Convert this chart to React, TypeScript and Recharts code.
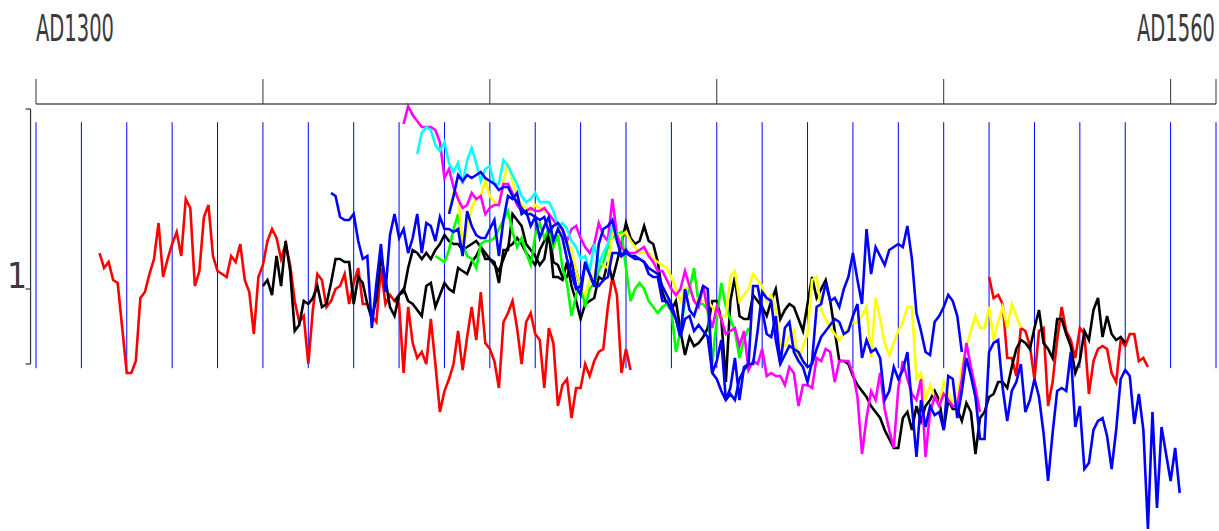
import { LineChart, Line, XAxis, YAxis, ReferenceLine } from "recharts";

// Index series, 100 = "1" on the left axis. Each series is yearly from its start year.
const red1Start = 1314;
const red1 = [
  112, 107, 109, 103, 102, 87, 72, 72, 76, 97,
  99, 105, 110, 122, 104, 110, 115, 119, 111, 130,
  127, 101, 106, 124, 128, 111, 106, 105, 104, 111,
  109, 115, 103, 99, 85, 104, 108, 116, 120, 117,
  110, 115, 108, 96, 89, 91, 75, 93, 105, 103,
  94, 96, 100, 101, 105, 95, 102, 107, 95, 95,
  91, 89, 107, 95, 98, 96, 95, 72, 94, 82,
  77, 79, 75, 90, 75, 59, 66, 70, 75, 86,
  73, 84, 94, 83, 99, 82, 80, 76, 67, 89,
  92, 96, 87, 75, 89, 92, 85, 83, 67, 87,
  82, 61, 68, 70, 57, 67, 67, 75, 71, 76,
  79, 80, 94, 104, 98, 72, 80, 73,
];

const red2Start = 1510;
const red2 = [
  104, 97, 98, 95, 77, 77, 71, 87, 86, 81,
  70, 86, 87, 61, 69, 83, 94, 86, 83, 77,
  87, 85, 65, 76, 80, 81, 80, 72, 69, 83,
  81, 85, 85, 76, 77, 74,
];

const blackAStart = 1350;
const blackA = [
  101, 103, 98, 111, 101, 116, 106, 86, 88, 96,
  95, 97, 101, 94, 95, 102, 110, 110, 109, 109,
  95, 104, 102, 95, 90, 97, 111, 103, 94, 91,
  98, 99, 107, 113, 112, 110, 112, 110, 113, 115,
  118, 116, 115, 115, 113, 114, 115, 116, 114, 110,
  110, 109, 102, 113, 113, 125, 123, 121, 115, 113,
  111, 108, 110, 119, 104, 104, 103, 109, 101, 96,
  90, 95, 96, 97, 104, 103, 109, 103, 109, 115,
  122, 117, 115, 116, 121, 116, 115, 109, 99, 95,
  93, 96, 86, 78, 84, 81, 82, 84, 87, 96,
  96, 90, 69, 96, 104, 91, 90, 90, 98, 96,
  94, 91, 96, 100, 90, 93, 95, 94, 90, 86,
  95, 104, 97, 100, 103, 96, 86, 76, 76, 75,
  71, 68, 66, 64, 61, 59, 57, 53, 50, 47,
  47, 57, 59, 53, 61, 56, 61, 63, 66, 63,
  53, 63, 60, 60, 56, 62, 59, 45, 57, 59,
  64, 65, 69, 69, 67, 74, 80, 83, 82, 80,
  87, 93, 82, 80, 77, 90, 90, 85, 81, 72,
  76, 86, 83, 93, 97, 84, 91, 85, 83, 84,
  82,
];

const blackBStart = 1379;
const blackB = [
  96, 98, 100, 96, 95, 93, 91, 101, 102, 94,
  98, 102, 100, 99, 107, 106, 105, 109, 111, 114,
  112, 110, 108, 106, 110, 114, 115, 117, 115, 112,
  110, 108, 113, 116, 120, 109, 108, 104, 104, 109,
  106, 101,
];

const blueAStart = 1365;
const blueA = [
  132, 131, 124, 123, 123, 125, 116, 110, 111, 87,
  102, 115, 99, 118, 125, 117, 120, 112, 117, 125,
  112, 122, 121, 116, 124, 120, 120, 119, 120, 111,
  126, 121, 118, 117, 117, 120, 123, 111, 123, 131,
  130, 132, 125, 126, 121, 124, 117, 121, 124, 116,
  120, 117, 110, 105, 100, 101, 108, 105, 101, 115,
  120, 121, 123, 116, 111, 113, 111, 111, 110, 109,
  105, 104, 104, 96, 96, 93, 90, 84, 100, 93,
  91, 96, 101, 100, 72, 76, 83, 63, 67, 77,
  63, 74, 75, 101, 101, 93, 85, 84, 91, 75,
  87, 89, 79, 76, 74, 69, 76, 94, 95, 102,
  96, 97, 94, 100, 104, 112, 103, 95, 120, 105,
  114, 111, 108, 113, 114, 115, 114, 121, 110, 92,
  86, 79, 78, 89, 91, 94, 98, 96, 91, 79,
];

const blueBStart = 1391;
const blueB = [
  125, 131, 138, 136, 138, 137, 138, 139, 137, 136,
  135, 133, 134, 134, 131, 129, 127, 125, 125, 124,
  123, 124, 119, 121, 122, 120, 115, 109, 101, 98,
  109, 105, 101, 101, 103, 104, 112, 112, 111, 112,
  111, 110, 110, 109, 107, 106, 105, 101, 98, 95,
  90, 84, 90, 91, 86, 88, 86, 84, 72, 70,
  66, 63, 65, 63, 70, 73, 75, 75, 86, 99,
  97, 96, 83, 75, 78, 81, 80, 79, 76, 74,
  75, 80, 84, 86, 88, 90, 89, 85, 86, 91,
  95, 77, 83, 79, 80, 77, 63, 66, 74, 70,
  73, 79, 61, 44, 63, 54, 61, 58, 59, 53,
  71, 70, 57, 66, 77, 71, 64, 50, 50, 79,
  82, 83, 67, 56, 66, 69, 75, 59, 63, 70,
  64, 52, 36, 52, 66, 67, 66, 79, 54, 61,
  40, 42, 53, 56, 57, 51, 40, 53, 70, 73,
  71, 55, 65, 53, 20, 59, 27, 54, 45, 36,
  47, 32,
];

const magentaStart = 1381;
const magenta = [
  155, 161, 158, 156, 154, 154, 154, 153, 149, 137,
  140, 134, 130, 127, 128, 132, 130, 131, 125, 127,
  128, 128, 135, 135, 132, 128, 126, 126, 127, 126,
  126, 127, 125, 123, 121, 120, 116, 120, 121, 117,
  114, 112, 115, 122, 118, 116, 130, 118, 114, 112,
  112, 112, 113, 114, 111, 109, 106, 106, 103, 100,
  98, 100, 106, 101, 96, 94, 101, 93, 87, 94,
  90, 85, 86, 87, 81, 86, 73, 76, 75, 80,
  71, 72, 71, 71, 68, 74, 72, 61, 68, 68,
  67, 77, 76, 80, 79, 69, 76, 76, 76, 72,
  64, 45, 57, 66, 63, 72, 60, 53, 47, 67,
  76, 70, 65, 63, 70, 44, 59, 64, 61, 65,
  63, 61, 61, 70, 82, 74, 67, 59,
];

const cyanStart = 1384;
const cyan = [
  145, 152, 154, 153, 148, 146, 149, 142, 139, 142,
  135, 143, 147, 142, 136, 140, 141, 135, 135, 143,
  141, 138, 135, 131, 129, 130, 132, 129, 129, 129,
  126, 121, 122, 120, 116, 114, 110, 111, 106, 115,
  108, 112, 115, 121, 118,
];

const yellowStart = 1391;
const yellow = [
  126, 132, 131, 114, 120, 127, 130, 131, 136, 131,
  129, 128, 136, 142, 136, 131, 128, 127, 126, 128,
  127, 126, 125, 123, 121, 117, 116, 113, 106, 101,
  98, 103, 105, 109, 108, 107, 119, 118, 118, 119,
  116, 114, 112, 112, 112, 110, 109, 108, 107, 104,
  100, 96, 100, 101, 96, 97, 96, 96, 94, 92,
  91, 91, 104, 106, 96, 98, 100, 105, 103, 101,
  96, 98, 93, 81, 81, 84, 86, 76, 81, 85,
  103, 104, 93, 90, 87, 85, 83, 85, 87, 89,
  89, 91, 94, 77, 97, 90, 82, 78, 82, 86,
  89, 94, 94, 70, 72, 63, 68, 64, 61, 69,
  65, 62, 63, 74, 81, 86, 91, 87, 87, 94,
  83, 89, 94, 87, 95, 91, 87,
];

const greenStart = 1388;
const green = [
  111, 110, 109, 113, 120, 125, 115, 111, 110, 107,
  115, 116, 116, 117, 120, 123, 126, 119, 114, 117,
  112, 108, 118, 122, 117, 120, 114, 118, 107, 102,
  91, 98, 102, 94, 100, 102, 106, 109, 114, 117,
  118, 119, 107, 96, 100, 102, 100, 96, 94, 92,
  94, 95, 93, 79, 86, 96, 100, 107, 95, 95,
  93, 75, 90, 102, 94, 90, 86, 77, 83, 87,
];

const majorTicks = [1300, 1350, 1400, 1450, 1500, 1550, 1560];
const decades = Array.from({ length: 27 }, (_, i) => 1300 + i * 10);
const years = Array.from({ length: 261 }, (_, i) => 1300 + i);

const series = [
  { key: "red1", start: red1Start, values: red1, color: "#ff0000" },
  { key: "red2", start: red2Start, values: red2, color: "#ff0000" },
  { key: "blackA", start: blackAStart, values: blackA, color: "#000000" },
  { key: "blackB", start: blackBStart, values: blackB, color: "#000000" },
  { key: "green", start: greenStart, values: green, color: "#00ff00" },
  { key: "yellow", start: yellowStart, values: yellow, color: "#ffff00" },
  { key: "magenta", start: magentaStart, values: magenta, color: "#ff00ff" },
  { key: "cyan", start: cyanStart, values: cyan, color: "#00ffff" },
  { key: "blueA", start: blueAStart, values: blueA, color: "#0000ff" },
  { key: "blueB", start: blueBStart, values: blueB, color: "#0000ff" },
];

const rows = years.map((year) => {
  const row: Record<string, number | null> = { year };
  series.forEach((s) => {
    const v = s.values[year - s.start];
    row[s.key] = v === undefined ? null : v;
  });
  return row;
});

const Y_DOMAIN: [number, number] = [20, 161.67];
const GRID_TOP = 155.6;
const GRID_BOTTOM = 73.6;
const BRACKET_X = 1298.8;
const BRACKET_TICK_X = 1297.7;
const LABEL_FONT = "'Liberation Sans Narrow', 'DejaVu Sans Condensed', sans-serif";
const LABEL_WIDTH = 78;

function YearTick({ x, payload }: any) {
  const v = payload.value;
  if (v !== 1300 && v !== 1560) return <g />;
  // text is squeezed to a fixed width, so anchor from the left edge for both labels
  const left = v === 1300 ? x : x - LABEL_WIDTH - 1;
  return (
    <text
      x={left}
      y={41}
      textAnchor="start"
      fontSize={37}
      fontFamily={LABEL_FONT}
      fill="#3a3a3a"
      textLength={LABEL_WIDTH}
      lengthAdjust="spacingAndGlyphs"
    >
      {`AD${v}`}
    </text>
  );
}

function IndexTick({ x, y }: any) {
  return (
    <text x={x} y={y - 1} textAnchor="end" fontSize={35} fontFamily={LABEL_FONT} fill="#3a3a3a">
      1
    </text>
  );
}

export default function App() {
  return (
    <div style={{ width: 1219, height: 531, background: "#fff" }}>
      <style>{"body{margin:0}"}</style>
      <LineChart width={1219} height={531} data={rows} margin={{ top: 74, right: 3, bottom: 2, left: 0 }}>
        <XAxis
          dataKey="year"
          type="number"
          orientation="top"
          domain={[1300, 1560]}
          ticks={majorTicks}
          interval={0}
          height={30}
          tickSize={25}
          axisLine={{ stroke: "#555", strokeWidth: 1.5 }}
          tickLine={{ stroke: "#333" }}
          tick={<YearTick />}
        />
        <YAxis
          type="number"
          domain={Y_DOMAIN}
          ticks={[100]}
          width={36}
          tickSize={0}
          tickMargin={9}
          axisLine={false}
          tickLine={false}
          tick={<IndexTick />}
        />
        {decades.map((d) => (
          <ReferenceLine
            key={d}
            segment={[{ x: d, y: GRID_TOP }, { x: d, y: GRID_BOTTOM }]}
            stroke="#0000ff"
            strokeWidth={1}
            ifOverflow="visible"
          />
        ))}
        <ReferenceLine
          segment={[{ x: BRACKET_X, y: 160 }, { x: BRACKET_X, y: 75 }]}
          stroke="#333"
          strokeWidth={1.2}
          ifOverflow="visible"
        />
        {[160, 100, 75].map((v) => (
          <ReferenceLine
            key={v}
            segment={[{ x: BRACKET_TICK_X, y: v }, { x: BRACKET_X, y: v }]}
            stroke="#333"
            strokeWidth={1.2}
            ifOverflow="visible"
          />
        ))}
        {series.map((s) => (
          <Line
            key={s.key}
            dataKey={s.key}
            stroke={s.color}
            strokeWidth={2.6}
            dot={false}
            activeDot={false}
            connectNulls={false}
            isAnimationActive={false}
          />
        ))}
      </LineChart>
    </div>
  );
}
